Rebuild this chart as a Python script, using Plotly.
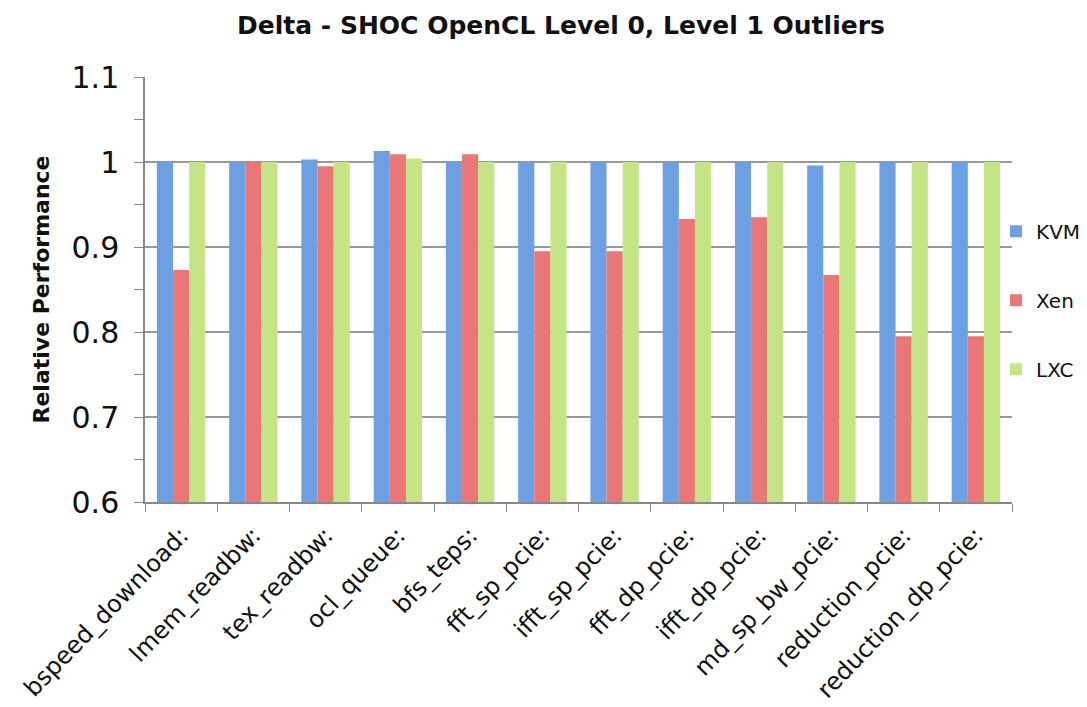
import plotly.graph_objects as go

categories = ["bspeed_download:", "lmem_readbw:", "tex_readbw:", "ocl_queue:", "bfs_teps:",
              "fft_sp_pcie:", "ifft_sp_pcie:", "fft_dp_pcie:", "ifft_dp_pcie:",
              "md_sp_bw_pcie:", "reduction_pcie:", "reduction_dp_pcie:"]
kvm = [1.0, 1.0, 1.003, 1.013, 1.0, 1.0, 1.0, 1.0, 1.0, 0.996, 1.0, 1.0]
xen = [0.873, 1.0, 0.995, 1.009, 1.009, 0.895, 0.895, 0.933, 0.935, 0.867, 0.795, 0.795]
lxc = [1.0, 1.0, 1.0, 1.004, 1.0, 1.0, 1.0, 1.0, 1.0, 1.0, 1.0, 1.0]

series = [("KVM", kvm, "#6d9fe3"),
          ("Xen", xen, "#ea7676"),
          ("LXC", lxc, "#c3e585")]

fig = go.Figure()
for name, vals, col in series:
    fig.add_trace(go.Bar(name=name, x=categories, y=vals, legendgroup=name,
                         marker=dict(color=col, line=dict(width=0))))

font = "DejaVu Sans"
# the page body adds an 8px offset, so the figure is 8px smaller than the window
fig.update_layout(
    width=1079, height=699,
    paper_bgcolor="white", plot_bgcolor="white",
    margin=dict(l=137, r=75, t=69, b=205, autoexpand=False),
    barmode="group", bargap=0.33, bargroupgap=0,
    title=dict(text="<b>Delta - SHOC OpenCL Level 0, Level 1 Outliers</b>",
               x=0.5125, xanchor="center", y=0.9757, yanchor="middle",
               font=dict(family=font, size=25, color="#111")),
    showlegend=True,
    legend=dict(xref="container", yref="container", x=0.9157, xanchor="left",
                y=0.582, yanchor="middle",
                font=dict(family=font, size=20, color="#111"),
                tracegroupgap=40, itemwidth=30, bgcolor="rgba(0,0,0,0)"),
    xaxis=dict(automargin=False, showline=True, linecolor="#888", linewidth=1.5, ticks="outside",
               ticklen=8, tickcolor="#888", tickson="boundaries", tickangle=-46,
               ticklabelstandoff=8,
               tickfont=dict(family=font, size=24, color="#111"), showgrid=False),
    yaxis=dict(automargin=False, range=[0.6, 1.1], tickvals=[0.6, 0.7, 0.8, 0.9, 1.0, 1.1],
               ticktext=["0.6", "0.7", "0.8", "0.9", "1", "1.1"],
               showline=True, linecolor="#888", linewidth=1.5, ticks="outside",
               ticklen=9, tickcolor="#888", ticklabelstandoff=9,
               minor=dict(dtick=0.05, ticks="outside", ticklen=9, tickcolor="#888", showgrid=False),
               showgrid=True, gridcolor="#999", gridwidth=1.5,
               tickfont=dict(family=font, size=30, color="#111"),
               title=dict(text="<b>Relative Performance</b>", standoff=16,
                          font=dict(family=font, size=22, color="#111"))),
)

fig.write_html("out.html")
